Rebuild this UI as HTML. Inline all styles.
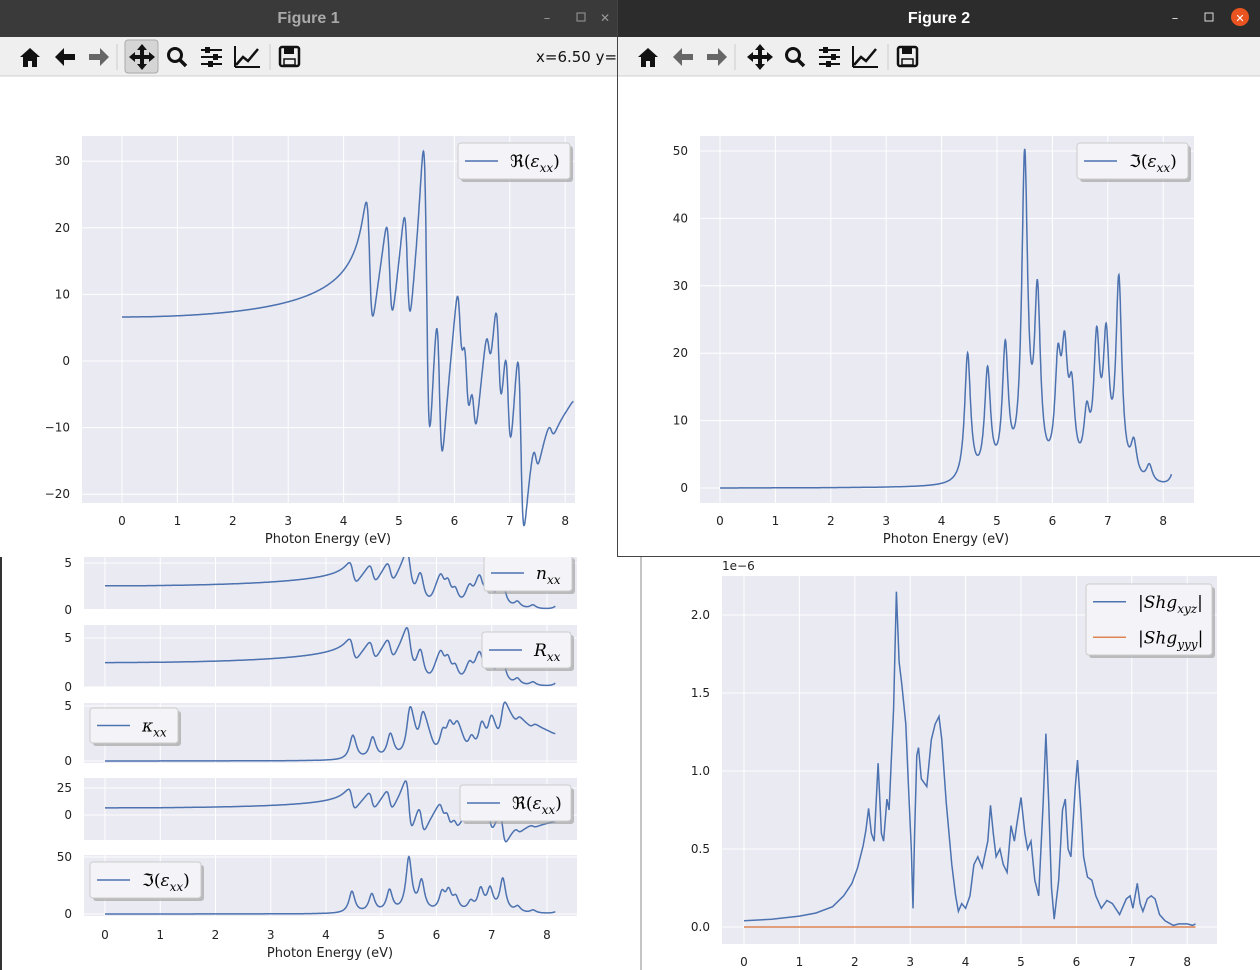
<!DOCTYPE html>
<html><head><meta charset="utf-8"><style>
html,body{margin:0;padding:0;background:#fff;width:1260px;height:970px;overflow:hidden}
svg{display:block;font-family:"DejaVu Sans","Liberation Sans",sans-serif}
</style></head><body>
<svg id="s" width="1260" height="970" xmlns="http://www.w3.org/2000/svg"></svg>
<script>
const S=document.getElementById('s');
let out='';
function r(x,y,w,h,f,extra){out+=`<rect x="${x}" y="${y}" width="${w}" height="${h}" fill="${f}" ${extra||''}/>`;}
function t(x,y,s,sz,anc,extra){out+=`<text x="${x}" y="${y}" font-size="${sz}" text-anchor="${anc||'start'}" ${extra||''}>${s}</text>`;}
function l(x1,y1,x2,y2,c,w){out+=`<line x1="${x1}" y1="${y1}" x2="${x2}" y2="${y2}" stroke="${c}" stroke-width="${w||1}"/>`;}
const osc=[[4.47,19],[4.83,16],[5.15,19],[5.5,47],[5.73,26],[6.1,15],[6.22,16],[6.35,11],[6.62,8],[6.8,19],[6.97,19],[7.2,29],[7.47,5],[7.75,2.5],[8.2,2.5]];
const g=0.13,eb=1.0;
function eps(E){let re=eb,im=0;for(const [E0,h] of osc){const f=h*g*E0;const a=E0*E0-E*E,b=g*E;const d=a*a+b*b;re+=f*a/d;im+=f*b/d;}return [re,im];}
const xs=[];for(let E=0;E<=8.15;E+=0.005)xs.push(E);
const RE=xs.map(E=>eps(E)[0]),IM=xs.map(E=>eps(E)[1]);
const NN=xs.map((E,i)=>{const m=Math.hypot(RE[i],IM[i]);return Math.sqrt((m+RE[i])/2)});
const KK=xs.map((E,i)=>{const m=Math.hypot(RE[i],IM[i]);return Math.sqrt(Math.max(0,(m-RE[i])/2))});
const RR=NN.map(v=>v*0.97);
function line(X,Y,fx,fy,c){out+=`<polyline fill="none" stroke="${c||'#4c72b0'}" stroke-width="1.5" points="${X.map((x,i)=>fx(x).toFixed(1)+','+fy(Y[i]).toFixed(1)).join(' ')}"/>`;}
function axes(x0,y0,x1,y1,xt,yt,fx,fy,xlab,ylab){
 r(x0,y0,x1-x0,y1-y0,'#eaeaf2');
 for(const v of xt){const X=fx(v);l(X,y0,X,y1,'#fff',1);if(xlab)t(X,y1+22,v,12,'middle','fill="#222"');}
 for(const v of yt){const Y=fy(v);l(x0,Y,x1,Y,'#fff',1);if(ylab!==false)t(x0-12,Y+4,String(v).replace('-','−'),12,'end','fill="#222"');}
}
function legend(x,y,w,h,items){
 r(x+3,y+3,w,h,'#999','rx="3" opacity="0.6"');r(x,y,w,h,'#f4f4f8','rx="3" stroke="#ccc"');
 items.forEach((it,i)=>{const yy=y+h/(items.length*2)*(2*i+1);l(x+7,yy,x+40,yy,it[1],1.5);out+=`<text x="${x+52}" y="${yy+6}" font-size="17" font-family="DejaVu Serif,serif">${it[0]}</text>`;});
}
const xt=[0,1,2,3,4,5,6,7,8];
r(0,557,641,413,'#fff');l(1,557,1,970,'#333',2);
const bx=v=>105+v*55.25;
function sub(y0,y1,yt,fy,Y){axes(84,y0,577,y1,xt,yt,bx,fy,false);line(xs,Y,bx,fy);}
sub(540,609,[0,5],v=>610-v*9.4,NN);
sub(625,687,[0,5],v=>687-v*9.8,RR);
sub(703,763,[0,5],v=>761-v*11,KK);
sub(778,840,[0,25],v=>815-v*1.08,RE);
sub(855,916,[0,50],v=>914-v*1.14,IM);
for(const v of xt)t(bx(v),939,v,12,'middle','fill="#222"');
t(330,957,'Photon Energy (eV)',13,'middle','fill="#222"');
legend(484,555,88,36,[['<tspan font-style="italic">n</tspan><tspan font-size="12" dy="5" font-style="italic">xx</tspan>','#4c72b0']]);
legend(482,632,89,36,[['<tspan font-style="italic">R</tspan><tspan font-size="12" dy="5" font-style="italic">xx</tspan>','#4c72b0']]);
legend(90,708,88,35,[['<tspan font-style="italic">κ</tspan><tspan font-size="12" dy="5" font-style="italic">xx</tspan>','#4c72b0']]);
legend(460,785,111,36,[['ℜ(<tspan font-style="italic">ε</tspan><tspan font-size="12" dy="5" font-style="italic">xx</tspan><tspan dy="-5">)</tspan>','#4c72b0']]);
legend(90,862,111,36,[['ℑ(<tspan font-style="italic">ε</tspan><tspan font-size="12" dy="5" font-style="italic">xx</tspan><tspan dy="-5">)</tspan>','#4c72b0']]);
r(641,557,619,413,'#fff');l(641,557,641,970,'#888',1);
const sx=v=>744+v*55.4,sy=v=>927-v*156;
axes(722,576,1217,944,xt,[0,0.5,1,1.5,2],sx,sy,false,false);
[[0,'0.0'],[0.5,'0.5'],[1,'1.0'],[1.5,'1.5'],[2,'2.0']].forEach(([v,s])=>t(710,sy(v)+4,s,12,'end','fill="#222"'));
for(const v of xt)t(sx(v),966,v,12,'middle','fill="#222"');
t(722,570,'1e−6',12,'start','fill="#222"');
const shg=[[0,.04],[0.5,.05],[1,.07],[1.3,.09],[1.6,.13],[1.8,.2],[1.95,.28],[2.05,.38],[2.15,.52],[2.2,.62],[2.25,.76],[2.3,.6],[2.35,.55],[2.42,1.05],[2.48,.6],[2.52,.55],[2.58,.82],[2.62,.75],[2.7,1.4],[2.75,2.15],[2.8,1.7],[2.85,1.55],[2.92,1.3],[2.97,.9],[3.02,.5],[3.05,.12],[3.08,.6],[3.12,1.1],[3.15,1.15],[3.2,.95],[3.3,.9],[3.38,1.2],[3.45,1.3],[3.52,1.35],[3.57,1.2],[3.65,.8],[3.75,.4],[3.82,.2],[3.87,.1],[3.93,.15],[4.0,.12],[4.08,.2],[4.15,.4],[4.22,.45],[4.3,.38],[4.4,.55],[4.45,.78],[4.5,.6],[4.55,.45],[4.62,.5],[4.68,.4],[4.75,.35],[4.82,.65],[4.88,.55],[4.92,.65],[5.0,.83],[5.07,.6],[5.12,.5],[5.18,.55],[5.25,.3],[5.32,.2],[5.4,.8],[5.45,1.24],[5.5,.8],[5.55,.25],[5.6,.05],[5.68,.3],[5.75,.75],[5.8,.82],[5.85,.5],[5.9,.45],[5.98,.9],[6.02,1.07],[6.08,.75],[6.13,.45],[6.2,.32],[6.28,.3],[6.35,.2],[6.45,.12],[6.55,.17],[6.65,.15],[6.78,.08],[6.9,.18],[6.97,.2],[7.02,.12],[7.1,.28],[7.15,.15],[7.2,.1],[7.28,.18],[7.35,.2],[7.42,.18],[7.5,.08],[7.6,.04],[7.75,.01],[7.85,.02],[8.0,.02],[8.1,.01],[8.15,.02]];
line(shg.map(p=>p[0]),shg.map(p=>p[1]),sx,sy);
line([0,8.15],[0,0],sx,sy,'#dd8452');
legend(1086,584,126,71,[['|<tspan font-style="italic">Shg</tspan><tspan font-size="12" dy="5" font-style="italic">xyz</tspan><tspan dy="-5">|</tspan>','#4c72b0'],['|<tspan font-style="italic">Shg</tspan><tspan font-size="12" dy="5" font-style="italic">yyy</tspan><tspan dy="-5">|</tspan>','#dd8452']]);
function icons(x,active){
 const k='#111',gy=active?'#666':'#111';
 out+=`<path d="M${x+20},57 L${x+30},48 L${x+40},57 L${x+37},57 L${x+37},67 L${x+32},67 L${x+32},61 L${x+28},61 L${x+28},67 L${x+23},67 L${x+23},57 Z" fill="${k}"/>`;
 out+=`<path d="M${x+55},57 L${x+64},48 L${x+64},54 L${x+75},54 L${x+75},60 L${x+64},60 L${x+64},66 Z" fill="${gy}"/>`;
 out+=`<path d="M${x+109},57 L${x+100},48 L${x+100},54 L${x+89},54 L${x+89},60 L${x+100},60 L${x+100},66 Z" fill="#666"/>`;
 out+=`<path d="M${x+142},44 L${x+147},50 L${x+144},50 L${x+144},55 L${x+149},55 L${x+149},52 L${x+155},57 L${x+149},62 L${x+149},59 L${x+144},59 L${x+144},64 L${x+147},64 L${x+142},70 L${x+137},64 L${x+140},64 L${x+140},59 L${x+135},59 L${x+135},62 L${x+129},57 L${x+135},52 L${x+135},55 L${x+140},55 L${x+140},50 L${x+137},50 Z" fill="${k}"/>`;
 out+=`<circle cx="${x+175}" cy="55" r="6.5" fill="none" stroke="${k}" stroke-width="3"/>`;l(x+180,60,x+186,66,k,3.5);
 for(const [yy,p] of [[50,6],[57,14],[64,9]]){l(x+201,yy,x+222,yy,k,2);r(x+201+p-2,yy-3,5,6,k);}
 out+=`<polyline points="${x+236},65 ${x+243},57 ${x+248},61 ${x+258},49" fill="none" stroke="${k}" stroke-width="2.5"/>`;
 l(x+235,46,x+235,67,k,2);l(x+235,67,x+260,67,k,2);
 r(x+280,47,19,19,'none',`stroke="${k}" stroke-width="2.5" rx="2"`);r(x+284,48,10,6,k);r(x+284,59,11,6,'none',`stroke="${k}" stroke-width="1.5"`);
}
function win(x,w,title,active){
 r(x,0,w,37,active?'#2c2c2c':'#3a3a3a');
 t(x+w/2,23,title,16,'middle',`fill="${active?'#fff':'#aaa'}" font-weight="bold" font-family="Liberation Sans,sans-serif"`);
 const bx=x+w-(active?85:70);
 t(bx,22,'–',13,'middle',`fill="${active?'#ddd':'#999'}"`);
 r(bx+30,13,8,8,'none',`stroke="${active?'#ddd':'#999'}"`);
 if(active){out+=`<circle cx="${x+w-20}" cy="17" r="9" fill="#e95420"/>`;t(x+w-20,22,'✕',11,'middle','fill="#fff"');}
 else t(bx+58,22,'✕',12,'middle','fill="#999"');
 r(x,37,w,39,'#efefef');l(x,76,x+w,76,'#cfcfcf');
 l(x+117,44,x+117,70,'#ccc',1);l(x+270,44,x+270,70,'#ccc',1);
 if(!active) r(x+125,40,33,33,'#d5d5d5','rx="3" stroke="#aaa"');
 icons(x,active);
}
r(0,0,617,557,'#fff');
win(0,617,'Figure 1',false);
t(536,62,'x=6.50 y=2(',15,'start','fill="#111"');
const f1x=v=>122+v*55.4,f1y=v=>361-v*6.66;
axes(82,136,575,503,xt,[-20,-10,0,10,20,30],f1x,f1y,true);
line(xs,RE,f1x,f1y);
t(328,543,'Photon Energy (eV)',13,'middle','fill="#222"');
legend(458,143,112,36,[['ℜ(<tspan font-style="italic">ε</tspan><tspan font-size="12" dy="5" font-style="italic">xx</tspan><tspan dy="-5">)</tspan>','#4c72b0']]);
r(617,0,643,557,'#fff');
win(618,642,'Figure 2',true);
const f2x=v=>720+v*55.4,f2y=v=>488-v*6.74;
axes(700,136,1194,503,xt,[0,10,20,30,40,50],f2x,f2y,true);
line(xs,IM,f2x,f2y);
t(946,543,'Photon Energy (eV)',13,'middle','fill="#222"');
legend(1077,143,111,36,[['ℑ(<tspan font-style="italic">ε</tspan><tspan font-size="12" dy="5" font-style="italic">xx</tspan><tspan dy="-5">)</tspan>','#4c72b0']]);
l(617.5,0,617.5,557,'#444',1);l(617,556.5,1260,556.5,'#444',1);
S.innerHTML=out;
</script>
</body></html>
